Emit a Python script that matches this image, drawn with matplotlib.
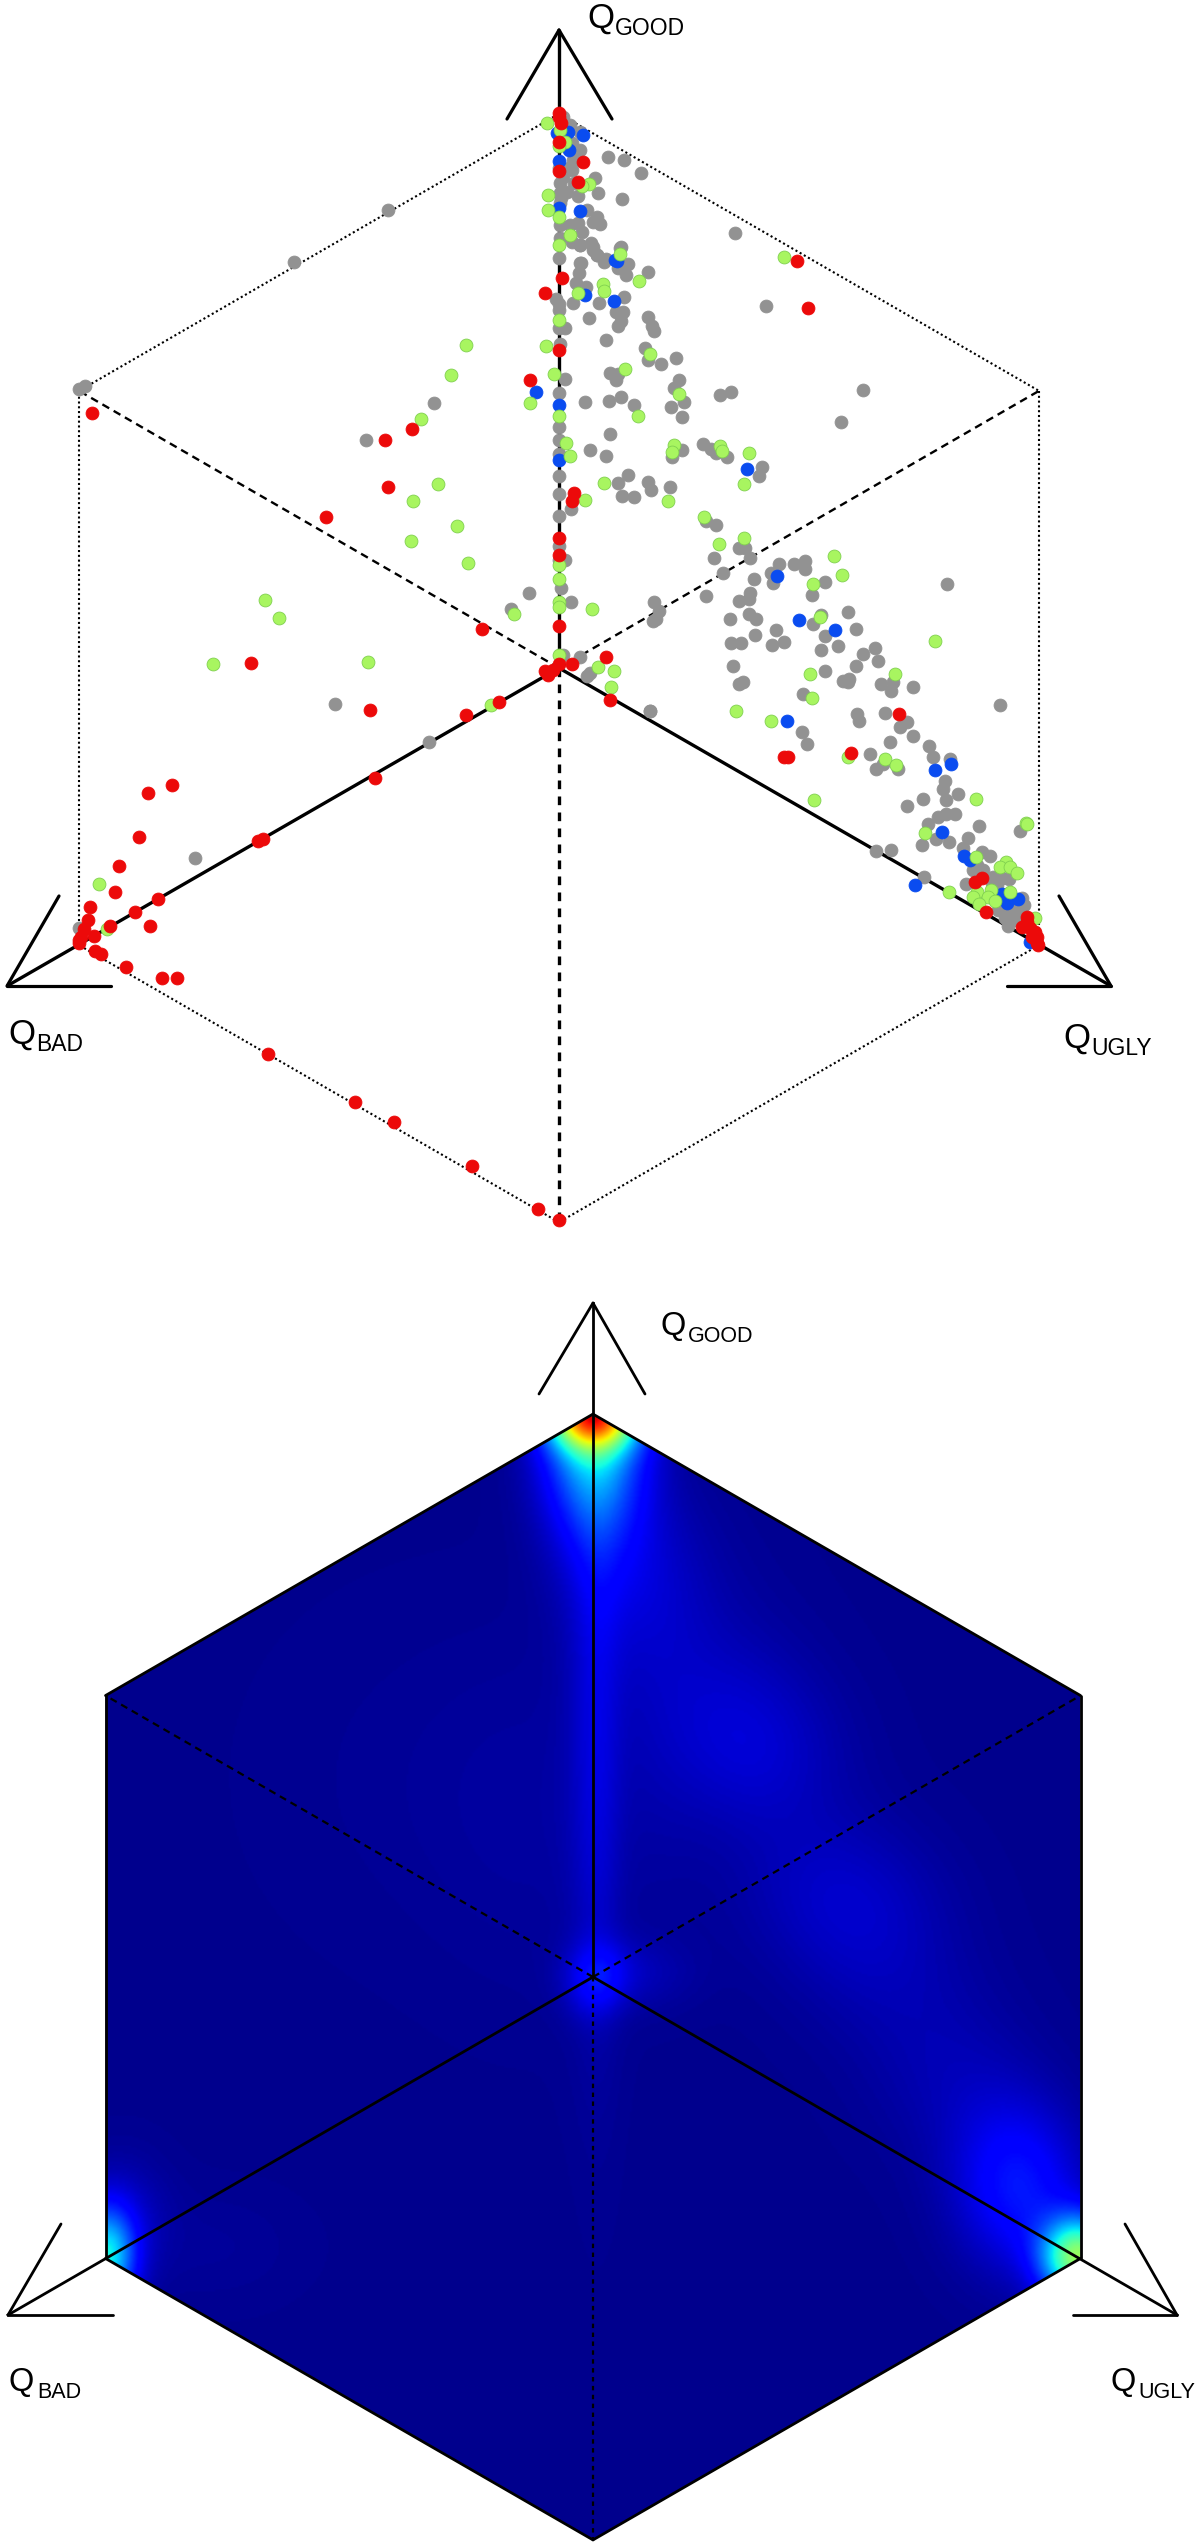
import numpy as np
import matplotlib
matplotlib.use("Agg")
import matplotlib.pyplot as plt
from matplotlib.patches import Polygon

plt.rcParams['font.family'] = ['Liberation Sans', 'DejaVu Sans']

# Projected cube-plane coordinates of each sample, origin at cube centre
GRAY_X = [4,11,21,13,21,14,13,4,1,1,8,36,39,19,49,65,82,63,1,28,38,34,41,11,19,23,21,13,1,32,34,38,47,62,0,21,0,2,1,10,15,
 22,20,17,27,14,40,-3,0,0,30,65,57,64,62,59,89,93,95,47,0,6,1,86,89,102,117,51,59,57,6,0,26,50,62,75,120,115,125,112,123,161,172,304,282,
 89,67,69,61,59,45,38,34,21,176,207,0,0,51,31,47,0,0,0,0,12,123,113,144,152,157,168,203,200,59,69,89,92,111,63,75,147,157,180,186,155,191,164,195,220,235,246,246,212,214,266,253,388,191,147,190,180,95,100,97,-30,-48,2,12,0,6,0,
 171,190,197,262,289,254,297,217,266,196,172,182,213,225,279,262,316,304,319,297,174,266,184,180,284,290,289,322,334,332,354,244,441,91,
 298,300,326,341,348,243,248,331,354,370,374,311,317,324,339,391,386,384,399,387,364,348,396,387,379,369,377,390,363,420,409,461,404,317,332,365,423,431,
 414,424,418,407,434,443,450,433,463,465,439,448,456,461,446,454,449,459,444,453,438,4,21,28,31,91,94,
 -125,-193,-224,-130,-364,-480,-474,-480,-171,-265]
GRAY_Y = [551,543,536,525,518,508,498,491,485,475,476,490,475,472,511,508,495,469,443,458,451,446,444,443,445,436,423,426,430,425,418,413,409,421,410,405,500,470,465,500,485,
 405,395,385,381,365,365,369,364,358,350,371,356,356,347,342,351,342,337,328,340,340,324,320,308,304,310,295,294,288,289,275,266,267,271,263,288,280,266,261,251,273,276,278,246,
 396,393,404,420,400,406,413,421,423,435,362,241,228,234,218,212,214,192,174,152,159,218,211,224,219,215,211,201,192,185,193,186,178,181,172,171,147,143,120,120,110,110,95,89,104,104,107,99,95,85,86,73,84,75,72,69,67,66,57,49,75,59,80,66,108,108,122,
 49,54,49,53,56,44,39,38,32,33,25,25,23,26,22,18,20,14,7,2,2,-3,-14,-16,-13,-11,-14,-16,-14,-23,-19,-26,-37,-43,
 -46,-53,-45,-59,-54,-64,-76,-74,-68,-78,-89,-86,-101,-96,-101,-91,-113,-121,-126,-132,-131,-138,-146,-146,-149,-156,-171,-174,-177,-158,-170,-163,-180,-183,-182,-209,-184,-188,
 -202,-202,-197,-216,-209,-210,-211,-215,-230,-237,-242,-245,-244,-240,-250,-252,-258,-250,-240,-239,-217,13,11,-8,-5,-43,47,
 265,228,-36,-74,-190,279,282,-260,458,406]

BLUE_X = [9,-2,24,10,0,0,21,56,58,26,55,-23,0,0,188,218,240,276,228,376,392,383,405,411,356,443,448,459,471]
BLUE_Y = [536,535,533,518,507,460,457,408,407,373,367,276,263,208,199,92,48,38,-53,-102,-96,-164,-188,-192,-217,-226,-235,-231,-274]

GREEN_X = [-12,1,6,0,30,23,-11,-11,0,11,0,61,225,80,44,45,19,0,-13,91,66,-5,120,-29,0,79,7,11,115,113,161,163,190,185,45,26,109,145,160,185,275,283,254,0,0,0,0,33,-45,261,
 376,251,336,253,177,212,289,326,337,255,417,467,366,417,390,468,447,441,451,458,432,418,414,429,436,451,420,476,
 0,39,55,52,-93,-108,-138,-121,-146,-102,-148,-91,-294,-280,-346,-191,-68,-460,-452]
GREEN_Y = [545,538,526,522,484,482,473,458,451,433,423,414,411,387,384,377,375,348,322,314,299,294,274,265,252,252,225,212,223,216,222,217,215,184,185,168,167,151,124,130,112,93,84,103,89,66,61,59,54,51,
 27,-6,-6,-30,-43,-53,-89,-91,-97,-132,-131,-155,-165,-189,-224,-156,-194,-199,-199,-205,-222,-224,-229,-229,-233,-224,-236,-250,
 13,1,-3,-19,323,293,249,184,167,142,127,105,68,50,4,6,-37,-216,-261]

RED_X = [0,0,2,0,0,24,19,238,249,3,-14,0,-29,15,13,0,0,0,47,13,0,-6,-14,-11,51,-77,
 -147,-174,-171,-233,-308,-189,-60,-93,-184,-296,-301,-387,-411,-420,-440,-444,-401,-469,-424,-471,-409,-449,-475,-465,-478,-480,-480,-464,-458,-433,-397,-382,-291,-204,-165,-87,-21,0,-467,
 340,292,229,225,423,416,427,468,468,463,471,476,473,478,479,478]
RED_Y = [555,551,545,526,497,506,486,407,360,390,375,318,288,175,167,130,113,42,11,4,4,-2,-3,-7,-32,39,
 239,228,181,151,5,-42,-34,-47,-110,-171,-173,-117,-125,-169,-198,-224,-231,-239,-244,-252,-258,-258,-261,-268,-269,-275,-272,-283,-286,-299,-310,-310,-386,-434,-454,-498,-541,-552,255,
 -46,-85,-89,-89,-210,-214,-244,-249,-254,-259,-260,-264,-269,-269,-277,-275]

# Density field: component centre, height, spreads
BLOB_X = [0,0,487,430,-488,-470,
          19,65,134,172,241,287,348,402,
          6,-6,5,42,0,-150,-60,-380,100,60]
BLOB_Y = [562,555,-281,-215,-281,-240,
          438,389,266,217,86,20,-86,-168,
          230,230,5,4,-20,200,150,-270,330,200]
BLOB_H = [0.55,0.34,0.50,0.11,0.34,0.04,
          0.045,0.03,0.025,0.04,0.04,0.028,0.025,0.03,
          0.04,0.02,0.07,0.03,0.03,0.008,0.01,0.01,0.012,0.012]
BLOB_SX = [30,34,26,42,20,30,
           38,45,55,60,65,60,55,45,
           16,20,22,40,20,120,70,60,70,40]
BLOB_SY = [22,70,28,55,34,40,
           70,70,60,60,55,60,60,60,
           200,180,22,25,20,120,120,40,90,110]
BACKGROUND = 0.014

LABELS = ['GOOD', 'BAD', 'UGLY']

def cube(half_w):
    r = half_w / np.cos(np.pi / 6)
    return {'T': (0, r), 'UR': (half_w, r / 2), 'LR': (half_w, -r / 2),
            'B': (0, -r), 'LL': (-half_w, -r / 2), 'UL': (-half_w, r / 2), 'C': (0, 0)}

def seg(ax, a, b, **kw):
    ax.plot([a[0], b[0]], [a[1], b[1]], color='black', **kw)

def arrows(ax, top, left, right, lw):
    """Three open arrow heads; each entry: tip, barb1, barb2."""
    for tip, b1, b2 in (top, left, right):
        seg(ax, tip, b1, lw=lw, solid_capstyle='round', zorder=2)
        seg(ax, tip, b2, lw=lw, solid_capstyle='round', zorder=2)

def label(ax, x, y, sub, dx, sz=25, sz2=16.5):
    ax.text(x, y, 'Q', fontsize=sz, ha='left', va='baseline', color='black')
    ax.text(x + dx, y - 7, sub, fontsize=sz2, ha='left', va='baseline', color='black')

W, H = 1200, 2545
fig = plt.figure(figsize=(12, 25.45), dpi=100, facecolor='white')

# ---------- upper panel: scatter ----------
ax = fig.add_axes([0, 1273 / H, 1, 1272 / H])
ax.set_xlim(-559, 641)
ax.set_ylim(668 - 1272, 668)
ax.axis('off')
v = cube(480)
dot = dict(lw=1.5, linestyle=(0, (1, 1.3)), zorder=1)
for a, b in [('T', 'UR'), ('UR', 'LR'), ('LR', 'B'), ('B', 'LL'), ('LL', 'UL'), ('UL', 'T')]:
    seg(ax, v[a], v[b], **dot)
dash = dict(lw=1.7, linestyle=(0, (3.3, 2.2)), zorder=1)
seg(ax, v['C'], v['UL'], **dash)
seg(ax, v['C'], v['UR'], **dash)
seg(ax, v['C'], v['B'], lw=2.4, linestyle=(0, (2.6, 2.2)), zorder=1)
solid = dict(lw=2.4, zorder=1, solid_capstyle='butt')
seg(ax, (0, 638), v['C'], **solid)
seg(ax, (-552, -318), v['C'], **solid)
seg(ax, (552, -318), v['C'], **solid)
arrows(ax,
       ((0, 638), (-52, 549), (53, 549)),
       ((-552, -318), (-500, -228), (-448, -318)),
       ((552, -318), (500, -228), (448, -318)), 2.3)

ms = dict(s=86, linewidths=0.6, zorder=3)
ax.scatter(GRAY_X, GRAY_Y, c='#929292', edgecolors='#929292', **ms)
ax.scatter(BLUE_X, BLUE_Y, c='#0a4cf0', edgecolors='#0a4cf0', **ms)
ax.scatter(GREEN_X, GREEN_Y, c='#a8f560', edgecolors='#80d050', **ms)
ax.scatter(RED_X, RED_Y, c='#ec0a0a', edgecolors='#ec0a0a', **ms)

label(ax, 28, 640, LABELS[0], 28)
label(ax, -551, -376, LABELS[1], 28)
label(ax, 504, -380, LABELS[2], 28)

# ---------- lower panel: density ----------
ax2 = fig.add_axes([0, 0, 1, 1273 / H])
ax2.set_xlim(-593, 607)
ax2.set_ylim(1977 - 2545, 1977 - 1272)
ax2.axis('off')
v2 = cube(487.5)
gx = np.linspace(-500, 500, 501)
gy = np.linspace(-570, 570, 571)
X, Y = np.meshgrid(gx, gy)
Z = np.full_like(X, BACKGROUND, dtype=float)
for bx, by, bh, sx, sy in zip(BLOB_X, BLOB_Y, BLOB_H, BLOB_SX, BLOB_SY):
    Z += bh * np.exp(-0.5 * (((X - bx) / sx) ** 2 + ((Y - by) / sy) ** 2))
im = ax2.imshow(Z, origin='lower', extent=(gx[0], gx[-1], gy[0], gy[-1]), cmap='jet',
                vmin=0, vmax=1, interpolation='bilinear', aspect='auto', zorder=1)
hex_pts = [v2[k] for k in ('T', 'UR', 'LR', 'B', 'LL', 'UL')]
clip = Polygon(hex_pts, closed=True, transform=ax2.transData, facecolor='none', edgecolor='none')
ax2.add_patch(clip)
im.set_clip_path(clip)

perim = dict(lw=2.0, zorder=3, solid_capstyle='round')
for a, b in [('T', 'UR'), ('UR', 'LR'), ('LR', 'B'), ('B', 'LL'), ('LL', 'UL'), ('UL', 'T')]:
    seg(ax2, v2[a], v2[b], **perim)
dash2 = dict(lw=1.6, linestyle=(0, (3.2, 2.3)), zorder=3)
seg(ax2, v2['C'], v2['UL'], **dash2)
seg(ax2, v2['C'], v2['UR'], **dash2)
seg(ax2, v2['C'], v2['B'], lw=1.6, linestyle=(0, (2, 2)), zorder=3)
seg(ax2, (0, 674), v2['C'], lw=2.0, zorder=3)
seg(ax2, (-585, -338), v2['C'], lw=2.0, zorder=3)
seg(ax2, (584, -338), v2['C'], lw=2.0, zorder=3)
arrows(ax2,
       ((0, 674), (-54, 583), (52, 583)),
       ((-585, -338), (-532, -247), (-480, -338)),
       ((584, -338), (532, -247), (480, -338)), 2.0)

label(ax2, 68, 642, LABELS[0], 27, sz=23.5, sz2=15.5)
label(ax2, -585, -414, LABELS[1], 29, sz=23.5, sz2=15.5)
label(ax2, 517, -414, LABELS[2], 28, sz=23.5, sz2=15.5)

fig.savefig('out.png', dpi=100, facecolor='white')
